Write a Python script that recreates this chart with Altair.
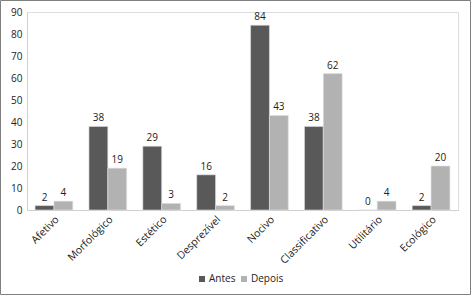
import altair as alt
import pandas as pd

categories = ["Afetivo", "Morfológico", "Estético", "Desprezível", "Nocivo",
              "Classificativo", "Utilitário", "Ecológico"]
antes = [2, 38, 29, 16, 84, 38, 0, 2]
depois = [4, 19, 3, 2, 43, 62, 4, 20]
series = ["Antes", "Depois"]
colors = ["#595959", "#b2b2b2"]

rows = []
for c, a, d in zip(categories, antes, depois):
    rows.append({"cat": c, "serie": "Antes", "v": a})
    rows.append({"cat": c, "serie": "Depois", "v": d})
df = pd.DataFrame(rows)

FONT = "Open Sans"

x = alt.X("cat:N", sort=categories, title=None,
          scale=alt.Scale(paddingInner=0.3, paddingOuter=0.15),
          axis=alt.Axis(labelAngle=-45, labelAlign="right", labelBaseline="top",
                        ticks=False, domainColor="#d0d0d0", labelPadding=4,
                        labelFontSize=10.5, labelColor="#222", labelFont=FONT))
y = alt.Y("v:Q", title=None,
          scale=alt.Scale(domain=[0, 90], nice=False),
          axis=alt.Axis(values=list(range(0, 91, 10)), grid=False, ticks=False,
                        domainColor="#d0d0d0", labelPadding=5, labelFontSize=10,
                        labelColor="#222", labelFont=FONT))
color = alt.Color("serie:N", scale=alt.Scale(domain=series, range=colors),
                  legend=alt.Legend(title=None, orient="none", direction="horizontal",
                                    legendX=170, legendY=262, symbolType="square",
                                    symbolSize=36, labelFontSize=10, labelFont=FONT,
                                    labelColor="#222", labelOffset=2, columnPadding=3,
                                    symbolStrokeWidth=0))

base = alt.Chart(df)
bars = base.mark_bar(stroke="#e0e0e0", strokeWidth=0.6).encode(
    x=x, y=y, color=color, xOffset=alt.XOffset("serie:N", sort=series))
text = base.mark_text(dy=-8, fontSize=10, font=FONT, color="#222").encode(
    x=x, y=y, xOffset=alt.XOffset("serie:N", sort=series), text="v:Q")

border = alt.Chart(pd.DataFrame({"a": [0]})).mark_rect(
    fill=None, stroke="#808080", strokeWidth=1).encode(
    x=alt.value(-26.5), x2=alt.value(443.5), y=alt.value(-11.5), y2=alt.value(282.5))

chart = alt.layer(bars, text, border).properties(
    width=431, height=198,
    autosize=alt.AutoSizeParams(type="none"),
    padding={"left": 27, "top": 12, "right": 13, "bottom": 85},
).configure_view(stroke=None).configure(background="white")

chart.save("out.html", embed_options={"renderer": "svg", "actions": False})
